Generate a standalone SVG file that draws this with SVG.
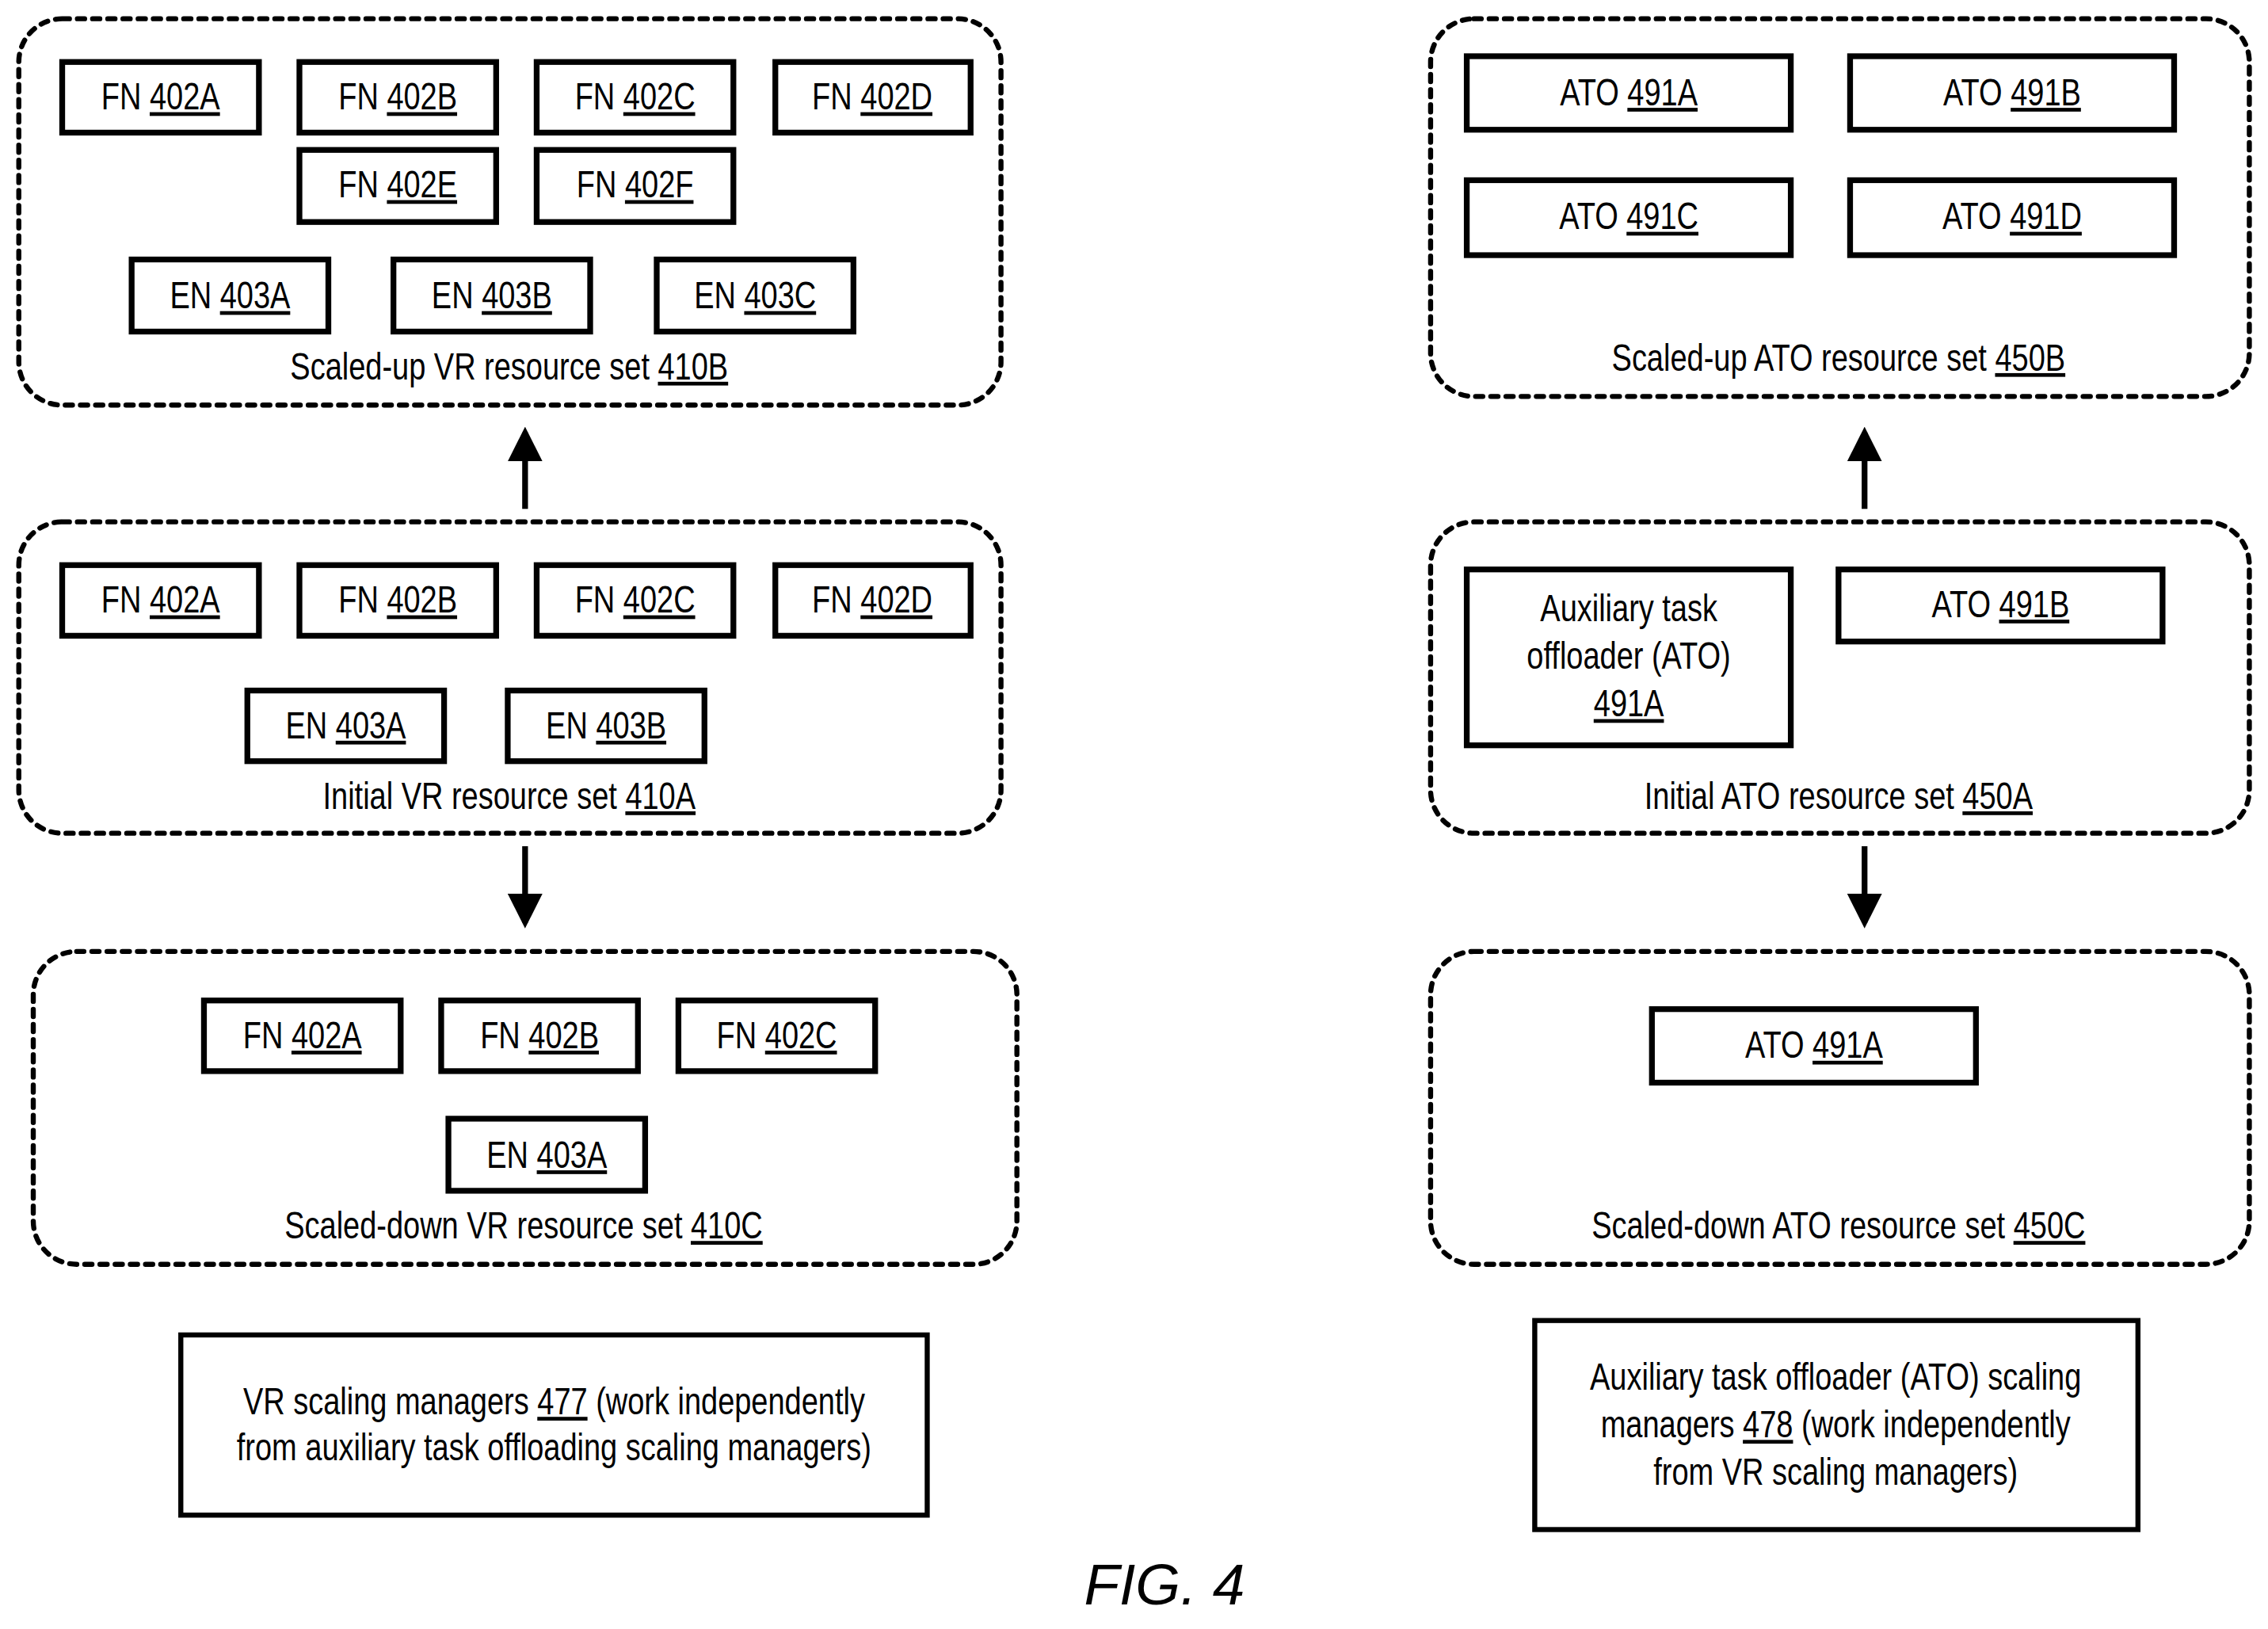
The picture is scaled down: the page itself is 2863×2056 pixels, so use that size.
<svg xmlns="http://www.w3.org/2000/svg" width="2863" height="2056" viewBox="0 0 2863 2056">
<style>
text{font-family:"Liberation Sans",sans-serif;font-size:26px;text-anchor:middle;fill:#000;transform-box:fill-box;transform-origin:center;transform:scaleX(0.8)}
text.fig{transform:none;font-style:italic;font-size:40px}
.grp{fill:none;stroke:#000;stroke-width:3.5;stroke-dasharray:5 5.5;stroke-linecap:round}
.nd{fill:#fff;stroke:#000;stroke-width:4}
.mg{fill:#fff;stroke:#000;stroke-width:3.5}
.u{text-decoration:underline}
.ar{stroke:#000;stroke-width:4;fill:none}
</style>
<defs><marker id="ah" markerWidth="6" markerHeight="6" refX="5" refY="3" orient="auto" markerUnits="strokeWidth"><path d="M0,0 L6,3 L0,6 z" fill="#000"/></marker></defs>
<rect width="2863" height="2056" fill="#fff"/>
<g transform="scale(1.826,1.8195)">
<g id="set410B"><rect class="grp" x="13" y="13" width="679" height="268" rx="30"/><text x="352" y="263">Scaled-up VR resource set  <tspan class="u">410B</tspan></text></g>
<g id="n402A_b"><rect class="nd" x="43" y="43" width="136" height="49"/><text x="111" y="76">FN <tspan class="u">402A</tspan></text></g>
<g id="n402B_b"><rect class="nd" x="207" y="43" width="136" height="49"/><text x="275" y="76">FN <tspan class="u">402B</tspan></text></g>
<g id="n402C_b"><rect class="nd" x="371" y="43" width="136" height="49"/><text x="439" y="76">FN <tspan class="u">402C</tspan></text></g>
<g id="n402D_b"><rect class="nd" x="536" y="43" width="135" height="49"/><text x="603" y="76">FN <tspan class="u">402D</tspan></text></g>
<g id="n402E_b"><rect class="nd" x="207" y="104" width="136" height="50"/><text x="275" y="137">FN <tspan class="u">402E</tspan></text></g>
<g id="n402F_b"><rect class="nd" x="371" y="104" width="136" height="50"/><text x="439" y="137">FN <tspan class="u">402F</tspan></text></g>
<g id="n403A_b"><rect class="nd" x="91" y="180" width="136" height="50"/><text x="159" y="214">EN <tspan class="u">403A</tspan></text></g>
<g id="n403B_b"><rect class="nd" x="272" y="180" width="136" height="50"/><text x="340" y="214">EN <tspan class="u">403B</tspan></text></g>
<g id="n403C_b"><rect class="nd" x="454" y="180" width="136" height="50"/><text x="522" y="214">EN <tspan class="u">403C</tspan></text></g>

<g id="set410A"><rect class="grp" x="13" y="362" width="679" height="216" rx="30"/><text x="352" y="561">Initial VR resource set  <tspan class="u">410A</tspan></text></g>
<g id="n402A_a"><rect class="nd" x="43" y="392" width="136" height="49"/><text x="111" y="425">FN <tspan class="u">402A</tspan></text></g>
<g id="n402B_a"><rect class="nd" x="207" y="392" width="136" height="49"/><text x="275" y="425">FN <tspan class="u">402B</tspan></text></g>
<g id="n402C_a"><rect class="nd" x="371" y="392" width="136" height="49"/><text x="439" y="425">FN <tspan class="u">402C</tspan></text></g>
<g id="n402D_a"><rect class="nd" x="536" y="392" width="135" height="49"/><text x="603" y="425">FN <tspan class="u">402D</tspan></text></g>
<g id="n403A_a"><rect class="nd" x="171" y="479" width="136" height="49"/><text x="239" y="512">EN <tspan class="u">403A</tspan></text></g>
<g id="n403B_a"><rect class="nd" x="351" y="479" width="136" height="49"/><text x="419" y="512">EN <tspan class="u">403B</tspan></text></g>

<g id="set410C"><rect class="grp" x="23" y="660" width="680" height="217" rx="30"/><text x="362" y="859">Scaled-down VR resource set  <tspan class="u">410C</tspan></text></g>
<g id="n402A_c"><rect class="nd" x="141" y="694" width="136" height="49"/><text x="209" y="727">FN <tspan class="u">402A</tspan></text></g>
<g id="n402B_c"><rect class="nd" x="305" y="694" width="136" height="49"/><text x="373" y="727">FN <tspan class="u">402B</tspan></text></g>
<g id="n402C_c"><rect class="nd" x="469" y="694" width="136" height="49"/><text x="537" y="727">FN <tspan class="u">402C</tspan></text></g>
<g id="n403A_c"><rect class="nd" x="310" y="776" width="136" height="50"/><text x="378" y="810">EN <tspan class="u">403A</tspan></text></g>

<g id="m477"><rect class="mg" x="125" y="926" width="516" height="125"/><text x="383" y="981">VR scaling managers <tspan class="u">477</tspan> (work independently</text><text x="383" y="1013">from auxiliary task offloading scaling managers)</text></g>

<g id="set450B"><rect class="grp" x="989" y="13" width="566" height="262" rx="30"/><text x="1271" y="257">Scaled-up ATO resource set <tspan class="u">450B</tspan></text></g>
<g id="a491A_b"><rect class="nd" x="1014" y="39" width="224" height="51"/><text x="1126" y="73">ATO <tspan class="u">491A</tspan></text></g>
<g id="a491B_b"><rect class="nd" x="1279" y="39" width="224" height="51"/><text x="1391" y="73">ATO <tspan class="u">491B</tspan></text></g>
<g id="a491C_b"><rect class="nd" x="1014" y="125" width="224" height="52"/><text x="1126" y="159">ATO <tspan class="u">491C</tspan></text></g>
<g id="a491D_b"><rect class="nd" x="1279" y="125" width="224" height="52"/><text x="1391" y="159">ATO <tspan class="u">491D</tspan></text></g>

<g id="set450A"><rect class="grp" x="989" y="362" width="566" height="216" rx="30"/><text x="1271" y="561">Initial ATO resource set <tspan class="u">450A</tspan></text></g>
<g id="a491A_a"><rect class="nd" x="1014" y="395" width="224" height="122"/><text x="1126" y="431">Auxiliary task</text><text x="1126" y="464">offloader (ATO)</text><text x="1126" y="497" class="u">491A</text></g>
<g id="a491B_a"><rect class="nd" x="1271" y="395" width="224" height="50"/><text x="1383" y="428">ATO <tspan class="u">491B</tspan></text></g>

<g id="set450C"><rect class="grp" x="989" y="660" width="566" height="217" rx="30"/><text x="1271" y="859">Scaled-down ATO resource set <tspan class="u">450C</tspan></text></g>
<g id="a491A_c"><rect class="nd" x="1142" y="700" width="224" height="51"/><text x="1254" y="734">ATO <tspan class="u">491A</tspan></text></g>

<g id="m478"><rect class="mg" x="1061" y="916" width="417" height="145"/><text x="1269" y="964">Auxiliary task offloader (ATO) scaling</text><text x="1269" y="997">managers <tspan class="u">478</tspan> (work independently</text><text x="1269" y="1030">from VR scaling managers)</text></g>

<g id="connectors">
<line class="ar" x1="363" y1="353" x2="363" y2="300" marker-end="url(#ah)"/>
<line class="ar" x1="363" y1="587" x2="363" y2="640" marker-end="url(#ah)"/>
<line class="ar" x1="1289" y1="353" x2="1289" y2="300" marker-end="url(#ah)"/>
<line class="ar" x1="1289" y1="587" x2="1289" y2="640" marker-end="url(#ah)"/>
</g>
<text class="fig" x="805" y="1113">FIG. 4</text>
</g>
</svg>
